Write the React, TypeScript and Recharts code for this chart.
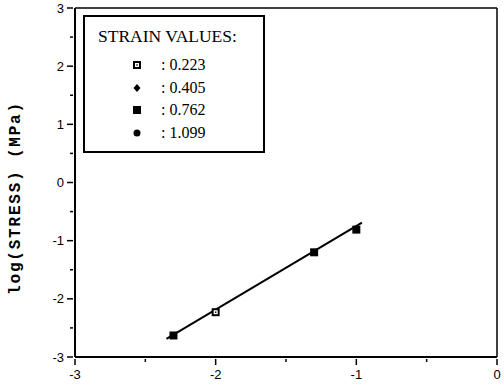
import { ReferenceLine, Scatter, ScatterChart, XAxis, YAxis } from "recharts";

const strainLabels = ["0.223", "0.405", "0.762", "1.099"];
const xTicks = [-3, -2.5, -2, -1.5, -1, -0.5, 0];
const yTicks = [-3, -2.5, -2, -1.5, -1, -0.5, 0, 0.5, 1, 1.5, 2, 2.5, 3];

// measured points: x = log(strain rate), y = log(stress)
const strain0223 = [{ x: -2.0, y: -2.23 }];
const strain0405: { x: number; y: number }[] = [];
const strain0762 = [
  { x: -2.3, y: -2.63 },
  { x: -1.3, y: -1.2 },
  { x: -1.0, y: -0.81 },
];
const strain1099: { x: number; y: number }[] = [];

// fitted line end points
const fitLine = [
  { x: -2.35, y: -2.69 },
  { x: -0.96, y: -0.69 },
];

const W = 504;
const H = 391;

type MarkerKind = "hollowSquare" | "diamond" | "square" | "circle";
const markerKinds: MarkerKind[] = ["hollowSquare", "diamond", "square", "circle"];

const Marker = ({ kind, cx, cy }: { kind: MarkerKind; cx: number; cy: number }) => {
  if (kind === "hollowSquare") {
    return (
      <g>
        <rect x={cx - 4} y={cy - 4} width={8} height={8} fill="#000" />
        <rect x={cx - 2} y={cy - 2} width={4} height={4} fill="#fff" />
        <rect x={cx - 0.7} y={cy - 0.7} width={1.4} height={1.4} fill="#000" />
      </g>
    );
  }
  if (kind === "square") {
    return <rect x={cx - 4} y={cy - 4} width={8} height={8} fill="#000" />;
  }
  if (kind === "diamond") {
    return <path d={`M${cx},${cy - 4}L${cx + 3.5},${cy}L${cx},${cy + 4}L${cx - 3.5},${cy}Z`} fill="#000" />;
  }
  return <circle cx={cx} cy={cy} r={3.5} fill="#000" />;
};

const seriesData = [strain0223, strain0405, strain0762, strain1099];

const labelFont = "Liberation Sans, Arial, sans-serif";

// integer ticks get a long tick and a label, half steps a short tick only
const XTick = ({ x, y, payload }: any) => {
  const major = Number.isInteger(payload.value);
  return (
    <g>
      <line x1={x} x2={x} y1={y} y2={y + (major ? 6 : 3)} stroke="#000" strokeWidth={1.5} />
      {major && (
        <text x={x} y={y + 20} textAnchor="middle" fontSize={13} fontFamily={labelFont} fill="#000">
          {payload.value}
        </text>
      )}
    </g>
  );
};

const YTick = ({ x, y, payload }: any) => {
  const major = Number.isInteger(payload.value);
  return (
    <g>
      <line x1={x} x2={x - (major ? 6 : 3)} y1={y} y2={y} stroke="#000" strokeWidth={1.5} />
      {major && (
        <text x={x - 9} y={y + 4.5} textAnchor="end" fontSize={13} fontFamily={labelFont} fill="#000">
          {payload.value}
        </text>
      )}
    </g>
  );
};

const StrainLegend = () => (
  <div
    style={{
      position: "absolute",
      left: 83,
      top: 15,
      width: 178,
      height: 134,
      border: "2px solid #000",
      background: "#fff",
      fontFamily: "Liberation Serif, Times New Roman, serif",
      color: "#000",
    }}
  >
    <div style={{ position: "absolute", left: 13, top: 9, fontSize: 17.5, whiteSpace: "nowrap" }}>STRAIN VALUES:</div>
    {strainLabels.map((label, i) => (
      <div key={label} style={{ position: "absolute", left: 0, top: 38 + i * 22.5, height: 20, width: 170 }}>
        <svg width={20} height={20} style={{ position: "absolute", left: 42, top: 0 }}>
          <Marker kind={markerKinds[i]} cx={10} cy={10} />
        </svg>
        <span style={{ position: "absolute", left: 76, top: 0, fontSize: 16, lineHeight: "20px", whiteSpace: "nowrap" }}>
          : {label}
        </span>
      </div>
    ))}
  </div>
);

const App = () => (
  <div style={{ position: "absolute", left: 0, top: 0, width: W, height: H, background: "#fff" }}>
    <ScatterChart width={W} height={H} margin={{ top: 8, right: 7, bottom: 0, left: 0 }}>
      <XAxis
        type="number"
        dataKey="x"
        domain={[-3, 0]}
        ticks={xTicks}
        interval={0}
        tick={<XTick />}
        tickLine={false}
        tickSize={0}
        axisLine={{ stroke: "#000", strokeWidth: 2 }}
        height={34}
      />
      <YAxis
        type="number"
        dataKey="y"
        domain={[-3, 3]}
        ticks={yTicks}
        interval={0}
        tick={<YTick />}
        tickLine={false}
        tickSize={0}
        axisLine={{ stroke: "#000", strokeWidth: 2 }}
        width={75}
        label={{
          content: () => (
            <text
              x={16}
              y={198}
              transform="rotate(-90 16 198)"
              textAnchor="middle"
              dominantBaseline="central"
              fontFamily="Liberation Mono, Courier New, monospace"
              fontWeight="bold"
              fontSize={16}
              letterSpacing={1.8}
              fill="#000"
            >
              log(STRESS) (MPa)
            </text>
          ),
        }}
      />
      <ReferenceLine y={3} stroke="#000" strokeWidth={1.5} />
      <ReferenceLine x={0} stroke="#000" strokeWidth={1.5} />
      <Scatter
        data={fitLine}
        line={{ stroke: "#000", strokeWidth: 2 }}
        shape={() => <g />}
        isAnimationActive={false}
      />
      {seriesData.map((data, i) => (
        <Scatter
          key={strainLabels[i]}
          name={strainLabels[i]}
          data={data}
          isAnimationActive={false}
          shape={(p: any) => <Marker kind={markerKinds[i]} cx={p.cx} cy={p.cy} />}
        />
      ))}
    </ScatterChart>
    <StrainLegend />
  </div>
);

export default App;
